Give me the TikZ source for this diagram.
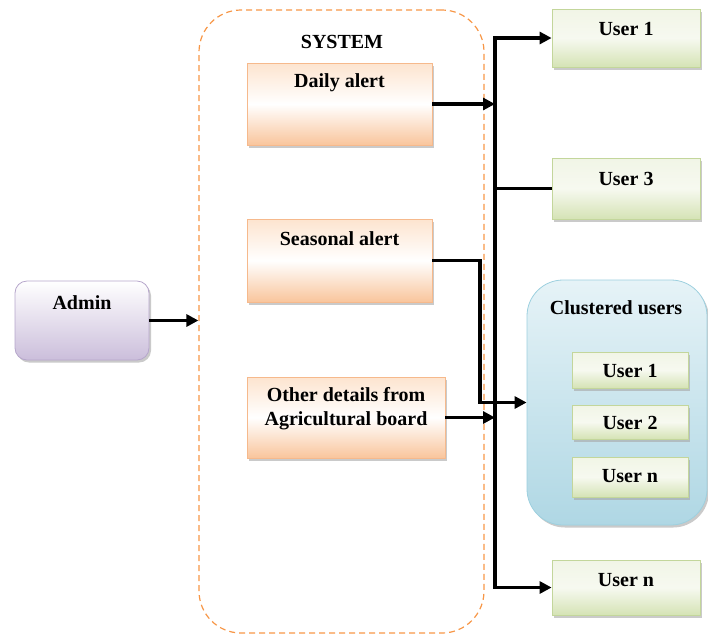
\documentclass[tikz,border=0pt]{standalone}
\usepackage{fontspec}
\setmainfont{Liberation Serif}
\usetikzlibrary{arrows.meta,shadows}
\definecolor{obord}{HTML}{F6B98C}
\definecolor{otop}{HTML}{FDE4CF}
\definecolor{obot}{HTML}{F9C59C}
\definecolor{pbord}{HTML}{B6A6CB}
\definecolor{pbot}{HTML}{CBBEDB}
\definecolor{gbord}{HTML}{C3D69B}
\definecolor{gtop}{HTML}{F1F5E6}
\definecolor{gbot}{HTML}{D5E3B5}
\definecolor{bbord}{HTML}{9DD0DF}
\definecolor{btop}{HTML}{E6F3F7}
\definecolor{bbot}{HTML}{AFD7E4}
\definecolor{sysc}{HTML}{F79646}
\tikzset{
  shad/.style={drop shadow={shadow xshift=2pt,shadow yshift=-2.5pt,fill=black!35,opacity=.6}},
  obox/.style={draw=obord,line width=0.8pt,top color=otop,bottom color=obot,middle color=white,shad},
  pbox/.style={draw=pbord,line width=0.8pt,top color=white,bottom color=pbot,rounded corners=12pt,shad},
  gbox/.style={draw=gbord,line width=0.8pt,top color=gtop,bottom color=gbot,middle color=gtop!60!white,shad},
  cbox/.style={draw=bbord,line width=0.8pt,top color=btop,bottom color=bbot,rounded corners=36pt,shad},
  sysbox/.style={draw=sysc,line width=1.2pt,dash pattern=on 6pt off 4pt,rounded corners=42pt},
  lbl/.style={font=\bfseries\fontsize{20}{22}\selectfont,align=center,inner sep=0pt},
  conn/.style={line width=3.8pt,black},
  arr/.style={conn,-{Triangle[length=12pt,width=12pt]}}
}
\begin{document}
\begin{tikzpicture}[x=1pt,y=-1pt]
\useasboundingbox (0,0) rectangle (708,635);
% system container
\node[sysbox,minimum width=285pt,minimum height=623pt,inner sep=0pt] (system) at (341.5,321.5) {};
\node[lbl] (systxt) at (342,42) {SYSTEM};
% admin
\node[pbox,minimum width=134pt,minimum height=79pt,inner sep=0pt] (admin) at (82,320.5) {};
\node[lbl] (admintxt) at (82,303) {Admin};
% alerts
\node[obox,minimum width=185pt,minimum height=82pt,inner sep=0pt] (daily) at (339.5,104) {};
\node[lbl] (dailytxt) at (339.5,83) {Daily alert};
\node[obox,minimum width=185pt,minimum height=83pt,inner sep=0pt] (seasonal) at (339.5,260.5) {};
\node[lbl] (seasonaltxt) at (339.5,239) {Seasonal alert};
\node[obox,minimum width=198pt,minimum height=81pt,inner sep=0pt] (other) at (346,417.5) {};
\node[lbl] (othertxt) at (346,409) {Other details from\\[2pt]Agricultural board};
% users
\node[gbox,minimum width=148pt,minimum height=58pt,inner sep=0pt] (u1) at (626,38) {};
\node[lbl] (u1txt) at (626,29) {User 1};
\node[gbox,minimum width=148pt,minimum height=61pt,inner sep=0pt] (u3) at (626,188.5) {};
\node[lbl] (u3txt) at (626,179) {User 3};
\node[gbox,minimum width=148pt,minimum height=55pt,inner sep=0pt] (un) at (626,587.5) {};
\node[lbl] (untxt) at (626,580) {User n};
% clustered
\node[cbox,minimum width=180pt,minimum height=245pt,inner sep=0pt] (cl) at (617,402.5) {};
\node[lbl] (cltxt) at (616,308) {Clustered users};
\node[gbox,minimum width=116pt,minimum height=36pt,inner sep=0pt] (c1) at (630,370) {};
\node[lbl] (c1txt) at (630,371) {User 1};
\node[gbox,minimum width=116pt,minimum height=34pt,inner sep=0pt] (c2) at (630,422) {};
\node[lbl] (c2txt) at (630,423) {User 2};
\node[gbox,minimum width=116pt,minimum height=40pt,inner sep=0pt] (c3) at (630,477) {};
\node[lbl] (c3txt) at (630,476) {User n};
% connectors
\coordinate (bus) at (495,300);
\coordinate (sk) at (480,402.5);
\draw[arr] (admin.east) -- (system.west |- admin.east);
\draw[arr] (bus) |- (u1.west);
\draw[arr] (bus) |- (un.west);
\draw[arr] (daily.east) -- (daily.east -| bus);
\draw[conn] (u3.west) -- (u3.west -| bus);
\draw[arr] (seasonal.east) -| (sk) -- (cl.west);
\draw[arr] (other.east) -- (other.east -| bus);
\end{tikzpicture}
\end{document}
